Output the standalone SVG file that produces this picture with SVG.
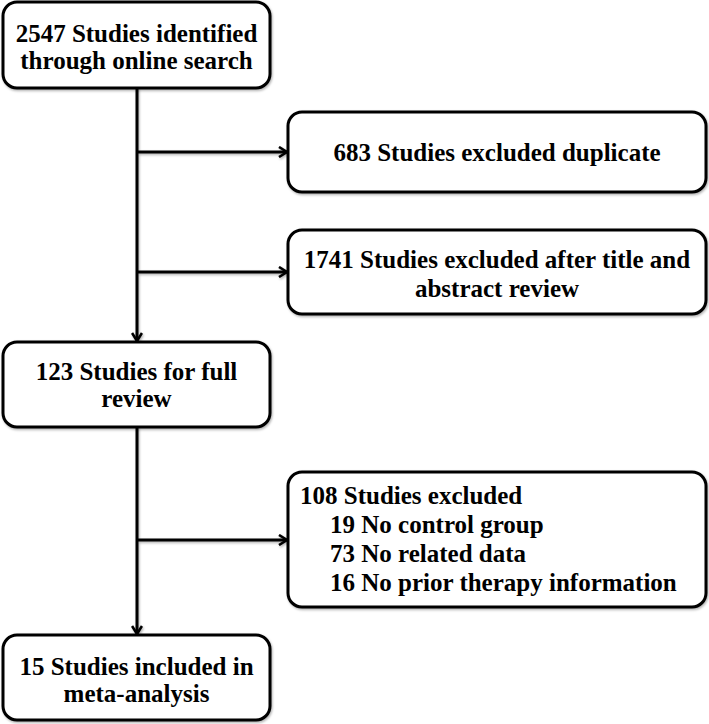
<svg xmlns="http://www.w3.org/2000/svg" width="709" height="724" viewBox="0 0 709 724">
<style>
.box{fill:#fff;stroke:#000;stroke-width:3}
.t{font-family:'Liberation Serif','Times New Roman',serif;font-weight:700;font-size:25px;fill:#000}
.c{text-anchor:middle}
.ln{fill:none;stroke:#000;stroke-width:3}
</style>
<defs>
<marker id="arr" viewBox="0 0 12 12" refX="10" refY="6" markerWidth="12" markerHeight="12" markerUnits="userSpaceOnUse" orient="auto">
<path d="M2,1 L10,6 L2,11" fill="none" stroke="#000" stroke-width="2.6" stroke-linejoin="miter"/>
</marker>
<filter id="sh" x="-5%" y="-5%" width="110%" height="115%">
<feDropShadow dx="1" dy="1.5" stdDeviation="1.2" flood-color="#000" flood-opacity="0.3"/>
</filter>
</defs>
<rect width="709" height="724" fill="#fff"/>
<g id="connectors" filter="url(#sh)">
<line class="ln" x1="137" y1="88" x2="137" y2="341" marker-end="url(#arr)"/>
<line class="ln" x1="137" y1="152" x2="287" y2="152" marker-end="url(#arr)"/>
<line class="ln" x1="137" y1="272" x2="287" y2="272" marker-end="url(#arr)"/>
<line class="ln" x1="137" y1="427" x2="137" y2="634" marker-end="url(#arr)"/>
<line class="ln" x1="137" y1="540" x2="287" y2="540" marker-end="url(#arr)"/>
</g>
<g id="n1">
<rect class="box" x="3" y="2" width="267" height="86" rx="14" filter="url(#sh)"/>
<text class="t c" x="136.5" y="42">2547 Studies identified</text>
<text class="t c" x="136.5" y="69">through online search</text>
</g>
<g id="n2">
<rect class="box" x="288" y="112" width="418" height="80" rx="14" filter="url(#sh)"/>
<text class="t c" x="497" y="161">683 Studies excluded duplicate</text>
</g>
<g id="n3">
<rect class="box" x="288" y="230" width="418" height="84" rx="14" filter="url(#sh)"/>
<text class="t c" x="497" y="268">1741 Studies excluded after title and</text>
<text class="t c" x="497" y="297">abstract review</text>
</g>
<g id="n4">
<rect class="box" x="3" y="342" width="267" height="85" rx="14" filter="url(#sh)"/>
<text class="t c" x="136.5" y="380">123 Studies for full</text>
<text class="t c" x="136.5" y="407">review</text>
</g>
<g id="n5">
<rect class="box" x="288" y="472" width="418" height="135" rx="14" filter="url(#sh)"/>
<text class="t" x="300" y="504">108 Studies excluded</text>
<text class="t" x="330" y="533">19 No control group</text>
<text class="t" x="330" y="562">73 No related data</text>
<text class="t" x="330" y="591">16 No prior therapy information</text>
</g>
<g id="n6">
<rect class="box" x="3" y="635" width="267" height="85" rx="14" filter="url(#sh)"/>
<text class="t c" x="136.5" y="675">15 Studies included in</text>
<text class="t c" x="136.5" y="702">meta-analysis</text>
</g>
</svg>
